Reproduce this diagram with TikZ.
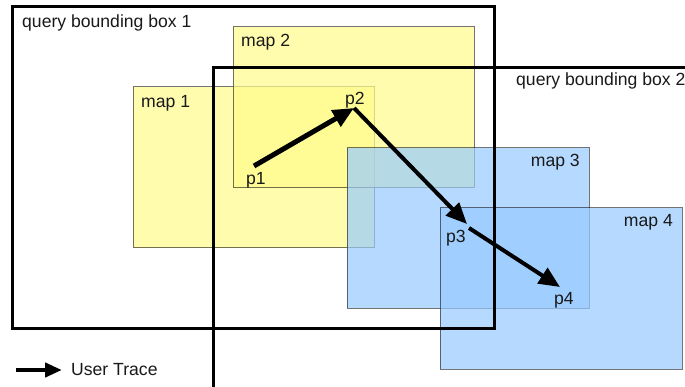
\documentclass[tikz,border=0pt]{standalone}
\usepackage{fontspec}
\setmainfont{Liberation Sans}
\usetikzlibrary{arrows.meta}
\definecolor{mapyellow}{RGB}{255,252,140}
\definecolor{mapblue}{RGB}{152,203,255}
\tikzset{
  mapbox/.style={draw=black, draw opacity=0.55, line width=1pt, fill opacity=0.7,
    inner sep=0pt, outer sep=0pt, anchor=north west},
  qbox/.style={draw=black, line width=3pt, inner sep=0pt, outer sep=0pt, anchor=north west},
  lbl/.style={font=\fontsize{17.6}{20}\selectfont, inner sep=0pt, text=black!90},
  trace/.style={line width=4.2pt, -{Triangle[length=21pt,width=18pt]}},
}
\begin{document}
\begin{tikzpicture}[x=1pt,y=-1pt]
\useasboundingbox (0,0) rectangle (685,387);
\fill[white] (0,0) rectangle (685,387);
% maps
\node[mapbox, fill=mapyellow, minimum width=241pt, minimum height=161pt] (map1) at (133,87) {};
\node[mapbox, fill=mapyellow, minimum width=241pt, minimum height=161pt] (map2) at (233,27) {};
\node[mapbox, fill=mapblue, minimum width=242pt, minimum height=160pt] (map3) at (347,148) {};
\node[mapbox, fill=mapblue, minimum width=242pt, minimum height=161pt] (map4) at (440,208) {};
% query boxes
\node[qbox, minimum width=482pt, minimum height=321pt] (qb1) at (12,7) {};
\node[qbox, minimum width=520pt, minimum height=360pt] (qb2) at (213,68) {};
% labels
\node[lbl, anchor=base west] (tq1) at (22,28) {query bounding box 1};
\node[lbl, anchor=base west] (tq2) at (516,86) {query bounding box 2};
\node[lbl, anchor=base west] (tm1) at (141,108) {map 1};
\node[lbl, anchor=base west] (tm2) at (241,47) {map 2};
\node[lbl, anchor=base east] (tm3) at (580,167) {map 3};
\node[lbl, anchor=base east] (tm4) at (673,227) {map 4};
\node[lbl, anchor=base west] (tp1) at (246,185) {p1};
\node[lbl, anchor=base west] (tp2) at (345,105) {p2};
\node[lbl, anchor=base west] (tp3) at (446,243) {p3};
\node[lbl, anchor=base west] (tp4) at (554,304) {p4};
% trace
\coordinate (p1) at (254,166);
\coordinate (p2) at (354,108);
\coordinate (p3) at (467,224);
\coordinate (p3s) at (469,228);
\coordinate (p4) at (560,287);
\draw[trace, line width=5pt] (p1) -- (p2);
\draw[trace, line width=4pt] (p2) -- (p3);
\draw[trace, line width=4pt] (p3s) -- (p4);
% legend
\coordinate (la) at (16,370);
\coordinate (lb) at (62,370);
\draw[line width=4.5pt, -{Triangle[length=17pt,width=14pt]}] (la) -- (lb);
\node[lbl, anchor=base west] (tut) at (71,375) {User Trace};
\end{tikzpicture}
\end{document}
